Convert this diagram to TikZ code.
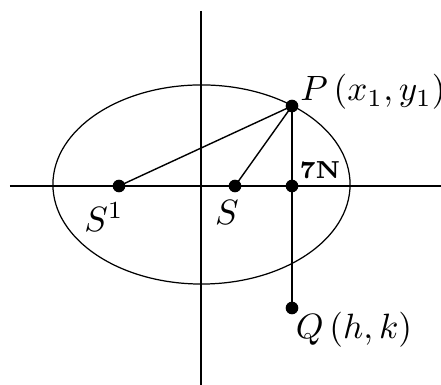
\documentclass[tikz,border=0pt]{standalone}
\usepackage{amsmath}
\begin{document}
\begin{tikzpicture}[x=0.01cm, y=0.01cm, line width=0.4pt,
        punto/.style={fill=black}]
        \useasboundingbox (-201,186) rectangle (240,-199);

        % Ejes coordenados
        \coordinate (xizq) at (-191,0);
        \coordinate (xder) at (240,0);
        \coordinate (yarr) at (0,175);
        \coordinate (yab) at (0,-199);
        \draw (xizq) -- (xder);
        \draw (yarr) -- (yab);

        % Elipse
        \draw[line width=0.35pt] (0.5,1.5) ellipse [x radius=1.485cm, y radius=0.995cm];

        % Puntos principales
        \coordinate (S1) at (-82,0);
        \coordinate (S) at (34,0);
        \coordinate (N) at (91,0);
        \coordinate (P) at (91,80);
        \coordinate (Q) at (91,-122);

        % Segmentos desde P
        \draw (S1) -- (P);
        \draw (S) -- (P);
        \draw (P) -- (Q);

        % Puntos marcados
        \foreach \p in {S1,S,N,P,Q}
            \fill[punto] (\p) circle (1.8pt);

        % Etiquetas
        \node (lP) at (172,94) {$P\left(x_1,y_1\right)$};
        \node (lN) at (119,16) {\scriptsize\bfseries 7N};
        \node (lS1) at (-97,-31) {$S^1$};
        \node (lS) at (26,-26) {$S$};
        \node (lQ) at (153,-144) {$Q\left(h,k\right)$};
    \end{tikzpicture}
\end{document}
